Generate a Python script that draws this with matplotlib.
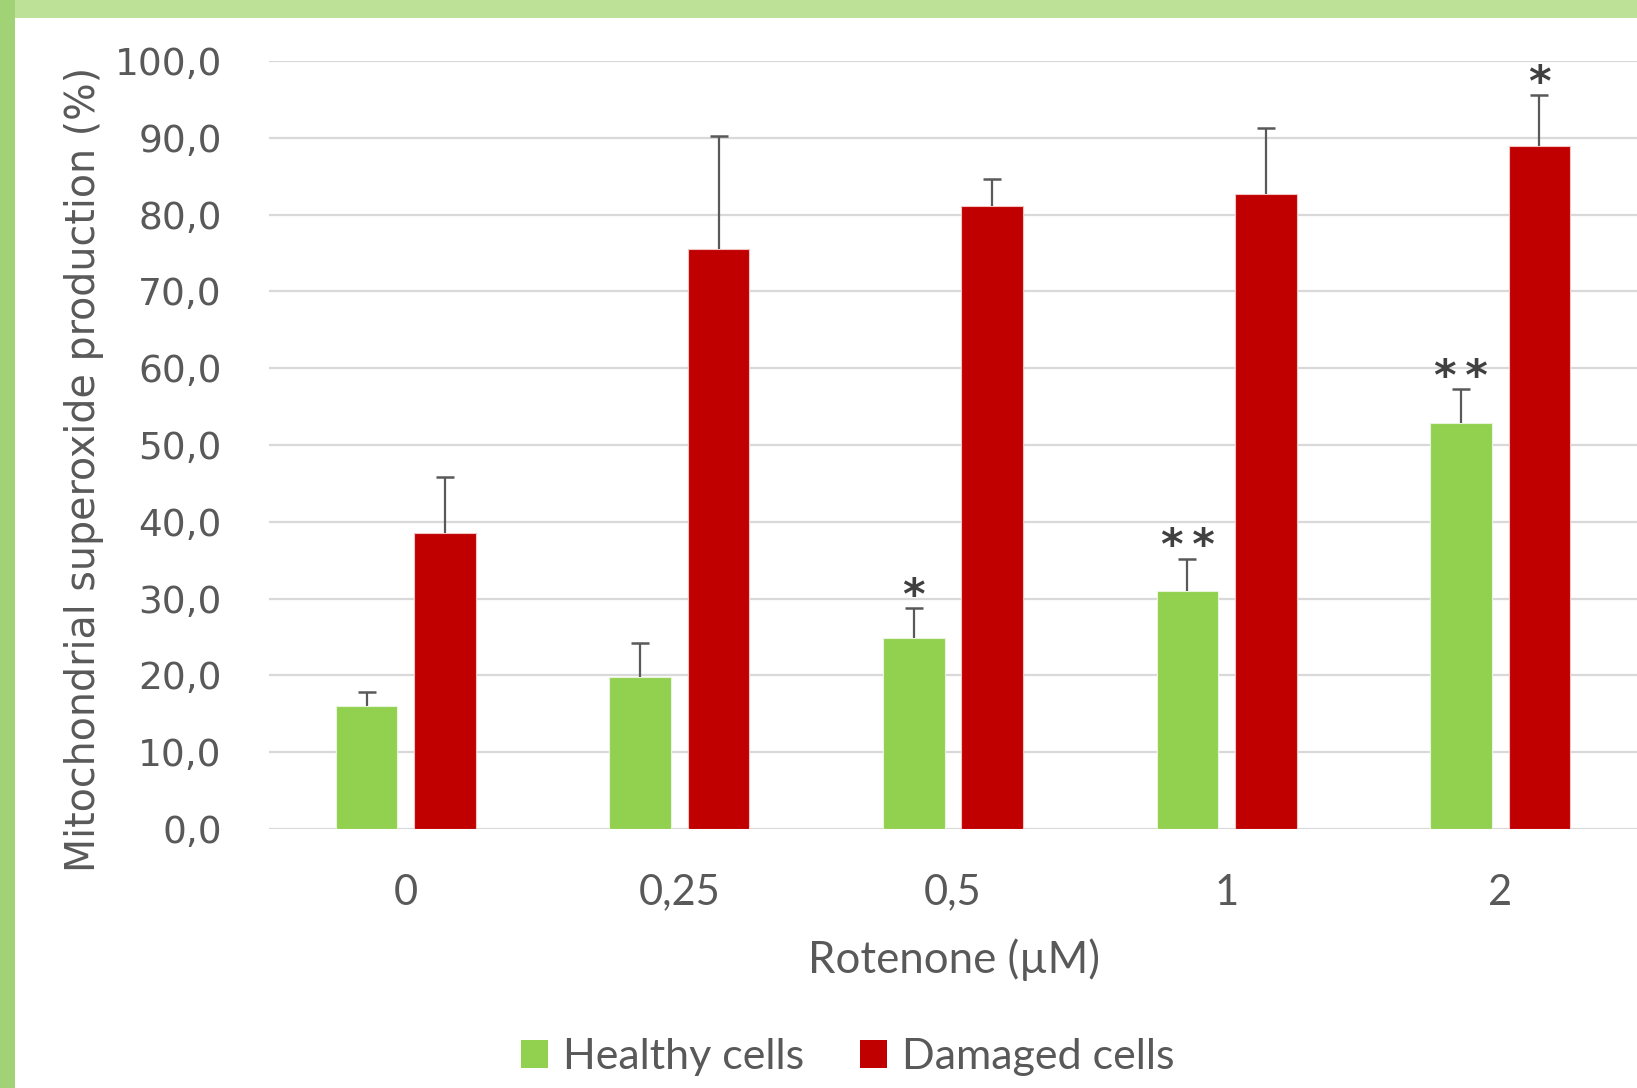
import matplotlib.pyplot as plt
from matplotlib.patches import Rectangle, Patch
import numpy as np

# Rotenone doses and mitochondrial superoxide production (%)
doses = ['0', '0,25', '0,5', '1', '2']
healthy = [16.0, 19.8, 24.9, 31.0, 52.9]
healthy_err = [1.8, 4.4, 3.9, 4.2, 4.4]
damaged = [38.6, 75.5, 81.1, 82.7, 88.9]
damaged_err = [7.2, 14.7, 3.5, 8.6, 6.6]
healthy_stars = ['', '', '*', '**', '**']
damaged_stars = ['', '', '', '', '*']

GREEN = '#92d050'
RED = '#c00000'
GREY = '#595959'

fig = plt.figure(figsize=(16.37, 10.88), dpi=100)
fig.patch.set_facecolor('white')

# slide background strips behind the chart
fig.patches.append(Rectangle((0, 1 - 18 / 1088), 1, 18 / 1088, transform=fig.transFigure,
                             facecolor='#bde197', edgecolor='none', zorder=0))
fig.patches.append(Rectangle((0, 0), 15 / 1637, 1, transform=fig.transFigure,
                             facecolor='#a2d276', edgecolor='none', zorder=0))

ax = fig.add_axes([269 / 1637, 0.238, 1 - 269 / 1637, 0.706])

x = np.arange(len(doses))
w = 0.225
off = 0.143

ax.bar(x - off, healthy, w, color=GREEN, edgecolor='#e8f5dc', linewidth=0.8, zorder=2)
ax.bar(x + off, damaged, w, color=RED, edgecolor='#f2c4c4', linewidth=0.8, zorder=2)

# upper-only error bars with a cap at the top end
for pos, vals, errs in [(x - off, healthy, healthy_err), (x + off, damaged, damaged_err)]:
    ax.errorbar(pos, vals, yerr=[np.zeros(len(vals)), errs], fmt='none',
                ecolor=GREY, elinewidth=1.6, capsize=0, zorder=3)
    ax.plot(pos, np.add(vals, errs), ls='none', marker='_', ms=13, mew=1.8,
            color=GREY, zorder=3)

# significance marks above the error bars
star_kw = dict(ha='center', va='baseline', fontsize=31, color='#404040',
               family='DejaVu Sans', fontweight='bold')
for i in range(len(x)):
    if healthy_stars[i]:
        ax.text(x[i] - off, healthy[i] + healthy_err[i] - 0.1,
                '\u2009'.join(healthy_stars[i]), **star_kw)
    if damaged_stars[i]:
        ax.text(x[i] + off, damaged[i] + damaged_err[i] - 0.1,
                '\u2009'.join(damaged_stars[i]), **star_kw)

ax.set_xlim(-0.5, len(x) - 0.5)
ax.set_ylim(0, 100)
ax.set_yticks(np.arange(0, 101, 10))
ax.set_yticklabels([f'{v:.1f}'.replace('.', ',') for v in range(0, 101, 10)],
                   family='DejaVu Sans', fontsize=27, color=GREY)
ax.tick_params(axis='both', length=0)
ax.tick_params(axis='y', pad=34)
ax.set_xticks(x)
ax.set_xticklabels(doses, family='Lato', fontsize=30, color=GREY)
ax.tick_params(axis='x', pad=32)
ax.grid(axis='y', color='#d9d9d9', linewidth=1.6, zorder=0)
ax.set_axisbelow(True)
for s in ax.spines.values():
    s.set_visible(False)

fig.text(954 / 1637, 1 - 960 / 1088, 'Rotenone (µM)', ha='center', va='center',
         family='Lato', fontsize=31.5, color=GREY)
fig.text(84 / 1637, 1 - 469 / 1088, 'Mitochondrial superoxide production (%)',
         rotation=90, ha='center', va='center',
         family=['Liberation Sans Narrow', 'DejaVu Sans'], fontsize=28.5, color=GREY)

handles = [Patch(facecolor=GREEN, edgecolor='none', label='Healthy cells'),
           Patch(facecolor=RED, edgecolor='none', label='Damaged cells')]
leg = fig.legend(handles=handles, loc='center', bbox_to_anchor=(0.518, 1 - 1057 / 1088),
                 ncol=2, frameon=False, handlelength=0.62, handleheight=0.62,
                 handletextpad=0.36, columnspacing=1.3, prop={'family': 'Lato', 'size': 31})
for t in leg.get_texts():
    t.set_color(GREY)

fig.savefig('out.png', dpi=100)
